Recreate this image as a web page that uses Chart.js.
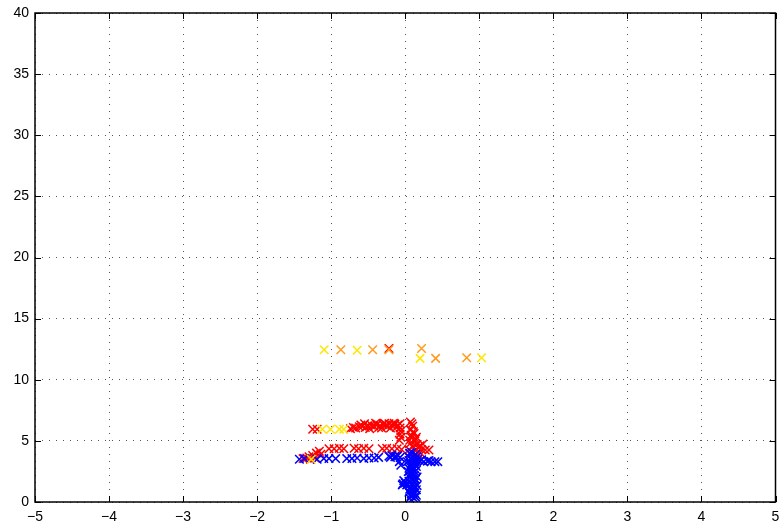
<!DOCTYPE html>
<html>
<head>
<meta charset="utf-8">
<title>scatter</title>
<script src="https://cdn.jsdelivr.net/npm/chart.js@4/dist/chart.umd.min.js"></script>
<style>
  html, body { margin: 0; padding: 0; background: #fff; }
  canvas { display: block; }
</style>
</head>
<body>
<canvas id="grafico" width="783" height="529"></canvas>
<script>
// axis ticks
const xTicks = [-5, -4, -3, -2, -1, 0, 1, 2, 3, 4, 5];
const yTicks = [0, 5, 10, 15, 20, 25, 30, 35, 40];

// blue track
const blueX = [-1.43, -1.36, -1.19, -1.10, -1.03, -0.94, -0.79, -0.72, -0.65, -0.56, -0.49, -0.42, -0.36,
  -0.22, -0.18, -0.14, -0.10, -0.07, -0.06, -0.08, -0.20, -0.12,
  0.05, 0.10, 0.15, 0.20, 0.25, 0.30, 0.35, 0.40, 0.44, 0.22, 0.32,
  0.05, 0.10, 0.03, 0.08, 0.12, 0.06, 0.10, 0.04, 0.09, 0.13, 0.07, 0.11, 0.05, 0.09, 0.02, 0.12,
  0.07, 0.10, 0.05, 0.13, 0.08, 0.11, 0.15, 0.06, 0.13, 0.15, 0.00, -0.03, 0.17,
  0.14, 0.06, 0.16, 0.09, 0.13, 0.05, 0.15, 0.08, 0.12, 0.06, 0.16, 0.10, 0.14, 0.07, 0.12,
  0.09, 0.15, 0.06, 0.11, 0.14, 0.08, 0.12, 0.16, 0.10, -0.04, -0.02, 0.13, 0.09];
const blueY = [3.50, 3.55, 3.50, 3.55, 3.55, 3.55, 3.55, 3.55, 3.60, 3.55, 3.60, 3.60, 3.65,
  3.75, 3.80, 3.70, 3.80, 3.65, 3.00, 3.30, 3.65, 3.70,
  3.40, 3.35, 3.40, 3.35, 3.30, 3.35, 3.30, 3.30, 3.30, 3.45, 3.40,
  3.70, 3.60, 3.30, 3.10, 3.20, 2.90, 2.70, 2.50, 2.30, 2.50, 2.10, 1.90, 1.70, 1.50, 1.40, 1.30,
  1.10, 0.90, 0.80, 0.70, 0.50, 0.35, 0.55, 0.30, 1.60, 2.90, 1.55, 1.50, 3.50,
  3.90, 4.00, 3.70, 3.45, 3.05, 2.75, 2.60, 2.40, 2.20, 2.00, 2.05, 1.80, 1.85, 1.25, 1.15,
  1.00, 1.00, 1.05, 0.60, 0.40, 0.65, 0.75, 1.35, 2.60, 1.40, 1.75, 3.30, 4.05];

// red track
const redX = [-1.25, -1.19, -0.74, -0.70, -0.67, -0.62, -0.58, -0.54, -0.50, -0.46, -0.42, -0.38, -0.34,
  -0.30, -0.26, -0.22, -0.18, -0.14, -0.10, -0.07, -0.48, -0.32, -0.20, -0.12, -0.07,
  -0.06, -0.07, -0.06, -0.08, -0.55, -0.28, -0.15, -0.40, -0.24, -0.60, -0.36,
  -1.03, -0.96, -0.89, -0.83, -0.69, -0.63, -0.56, -0.49, -0.31, -0.25, -0.18, -0.11, -0.05,
  -1.38, -1.33, -1.30, -1.25, -1.20, -1.16, -1.22, -1.28, -1.14,
  0.07, 0.10, 0.07, 0.12, 0.08, 0.13, 0.07, 0.16, 0.10, 0.20, 0.05, 0.14, 0.22, 0.27, 0.32,
  0.10, 0.18, 0.06, 0.12, 0.20, 0.15, 0.09, 0.11, 0.08, 0.14, 0.06, 0.24, 0.17,
  -0.22];
const redY = [5.95, 5.95, 6.00, 6.10, 6.05, 6.15, 6.20, 6.10, 6.25, 6.30, 6.20, 6.35, 6.25,
  6.35, 6.30, 6.40, 6.30, 6.35, 6.30, 6.40, 6.00, 6.05, 6.05, 6.10, 6.05,
  5.80, 5.55, 5.30, 5.05, 6.40, 6.45, 6.45, 6.45, 6.20, 6.30, 6.10,
  4.35, 4.35, 4.40, 4.35, 4.40, 4.35, 4.40, 4.35, 4.35, 4.40, 4.35, 4.35, 4.30,
  3.55, 3.60, 3.70, 3.80, 4.00, 4.15, 3.60, 3.50, 3.90,
  6.55, 6.20, 5.90, 5.60, 5.30, 5.00, 4.80, 4.70, 4.50, 4.60, 4.30, 4.20, 4.30, 4.25, 4.25,
  4.00, 3.90, 3.95, 3.75, 4.05, 5.30, 6.40, 5.75, 5.45, 5.15, 5.05, 4.75, 4.45,
  12.55];

// yellow and orange points
const yellowX = [-1.12, -1.01, -0.89, -0.83, -1.27, -1.095, -0.65, 0.20, 1.03];
const yellowY = [5.95, 5.95, 5.95, 5.95, 3.50, 12.45, 12.42, 11.75, 11.80];
const orangeX = [-0.87, -0.44, 0.22, 0.41, 0.83, -0.22];
const orangeY = [12.45, 12.45, 12.55, 11.75, 11.80, 12.45];

const pares = (xs, ys) => xs.map((x, i) => ({ x: x, y: ys[i] }));

const serie = (dados, cor, ordem) => ({
  data: dados,
  pointStyle: "crossRot",
  pointRadius: 6,
  pointHoverRadius: 6,
  borderWidth: 1.5,
  pointBorderWidth: 1.5,
  borderColor: cor,
  backgroundColor: cor,
  showLine: false,
  order: ordem,
});

const menos = (v) => String(v).replace("-", "\u2212");

// box and inward tick marks on all four sides
const moldura = {
  id: "moldura",
  afterDraw(chart) {
    const { ctx, chartArea: a, scales } = chart;
    const len = 6;
    ctx.save();
    ctx.strokeStyle = "#000";
    ctx.lineWidth = 1;
    ctx.beginPath();
    xTicks.forEach(v => {
      const px = Math.round(scales.x.getPixelForValue(v)) + 0.5;
      ctx.moveTo(px, a.bottom); ctx.lineTo(px, a.bottom - len);
      ctx.moveTo(px, a.top); ctx.lineTo(px, a.top + len);
    });
    yTicks.forEach(v => {
      const py = Math.round(scales.y.getPixelForValue(v)) + 0.5;
      ctx.moveTo(a.left, py); ctx.lineTo(a.left + len, py);
      ctx.moveTo(a.right, py); ctx.lineTo(a.right - len, py);
    });
    ctx.stroke();
    ctx.lineWidth = 1.5;
    ctx.strokeRect(a.left, a.top, a.right - a.left, a.bottom - a.top);
    ctx.restore();
  }
};

const fonte = { family: "'Liberation Sans', Helvetica, Arial, sans-serif", size: 14 };

new Chart(document.getElementById("grafico").getContext("2d"), {
  type: "scatter",
  data: {
    datasets: [
      serie(pares(orangeX, orangeY), "#ff9a1a", 1),
      serie(pares(yellowX, yellowY), "#ffe600", 2),
      serie(pares(blueX, blueY), "#0000ff", 3),
      serie(pares(redX, redY), "#ff0000", 4),
    ],
  },
  options: {
    responsive: false,
    animation: false,
    devicePixelRatio: 1,
    layout: { padding: { top: 13, right: 1, left: 0, bottom: 0 } },
    plugins: { legend: { display: false }, tooltip: { enabled: false } },
    scales: {
      x: {
        type: "linear",
        min: -5, max: 5,
        afterBuildTicks: (s) => { s.ticks = xTicks.map(v => ({ value: v })); },
        afterFit: (s) => { s.height = 27; s.paddingLeft = 0; s.paddingRight = 0; },
        ticks: { color: "#000", font: fonte, padding: 7, maxRotation: 0, callback: menos },
        grid: { color: "#555", lineWidth: 1, drawTicks: false },
        border: { display: false, dash: [1, 6] },
      },
      y: {
        type: "linear",
        min: 0, max: 40,
        afterBuildTicks: (s) => { s.ticks = yTicks.map(v => ({ value: v })); },
        afterFit: (s) => { s.width = 35; s.paddingTop = 0; s.paddingBottom = 0; },
        ticks: { color: "#000", font: fonte, padding: 6, callback: menos },
        grid: { color: "#555", lineWidth: 1, drawTicks: false },
        border: { display: false, dash: [1, 6] },
      },
    },
  },
  plugins: [moldura],
});
</script>
</body>
</html>
